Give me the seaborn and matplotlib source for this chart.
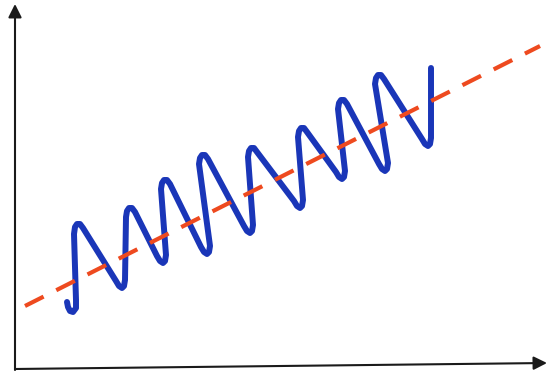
import pandas as pd
import seaborn as sns
import matplotlib.pyplot as plt

# =============================================================================
# DATA (pixel-like units, y grows downward)
# =============================================================================

# trend line (red dashed), two end points
trend_x = [25, 540]
trend_y = [306, 46]

# blue coil curve: start hook, then trough / peak turns along the trend
coil_x = [67, 68, 70, 73, 76, 76,
          74, 75, 77, 80, 83,
          116, 119, 122, 124, 125,
          126, 127, 129, 132, 135,
          157, 160, 163, 165, 166,
          161, 162, 164, 167, 170,
          201, 204, 207, 209, 210,
          199, 200, 202, 205, 208,
          244, 247, 250, 252, 253,
          248, 249, 251, 254, 257,
          294, 297, 300, 302, 303,
          298, 299, 301, 304, 307,
          336, 339, 342, 344, 345,
          338, 339, 341, 344, 347,
          379, 382, 385, 387, 388,
          375, 376, 378, 381, 384,
          422, 425, 428, 430, 431,
          431]
coil_y = [302, 307, 311, 312, 308, 300,
          234, 227, 224, 224, 228,
          281, 286, 288, 286, 280,
          217, 211, 208, 208, 212,
          256, 261, 263, 261, 255,
          189, 183, 180, 180, 184,
          247, 252, 254, 252, 246,
          164, 158, 155, 155, 159,
          226, 231, 233, 231, 225,
          157, 151, 148, 148, 152,
          201, 206, 208, 206, 200,
          137, 131, 128, 128, 132,
          172, 177, 179, 177, 171,
          109, 103, 100, 100, 104,
          164, 169, 171, 169, 163,
          84, 78, 75, 75, 79,
          139, 144, 146, 144, 138,
          68]

# =============================================================================
# PLOT
# =============================================================================
sns.set_style("white")

fig = plt.figure(figsize=(5.47, 3.76), dpi=100)
ax = fig.add_axes([0, 0, 1, 1])

coil_df = pd.DataFrame({"x": coil_x, "y": coil_y})
trend_df = pd.DataFrame({"x": trend_x, "y": trend_y})

sns.lineplot(
    data=coil_df, x="x", y="y", sort=False, estimator=None,
    color="#1a36b8", linewidth=4.3, ax=ax, zorder=2,
    solid_joinstyle="round", solid_capstyle="round",
)
sns.lineplot(
    data=trend_df, x="x", y="y", sort=False, estimator=None,
    color="#ee4a1f", linewidth=3.0, ax=ax, zorder=3,
)
ax.lines[-1].set_linestyle((0, (5.0, 3.4)))

# hand-drawn style axes with arrow heads
arrow = dict(arrowstyle="-|>", mutation_scale=20, lw=1.5,
             color="#1a1a1a", shrinkA=0, shrinkB=0)
ax.annotate("", xy=(15, 4), xytext=(15, 370), arrowprops=arrow)
ax.annotate("", xy=(547, 363), xytext=(15, 369), arrowprops=arrow)

ax.set_xlim(0, 547)
ax.set_ylim(376, 0)
ax.axis("off")

plt.savefig("out.png", dpi=100)
plt.close()
